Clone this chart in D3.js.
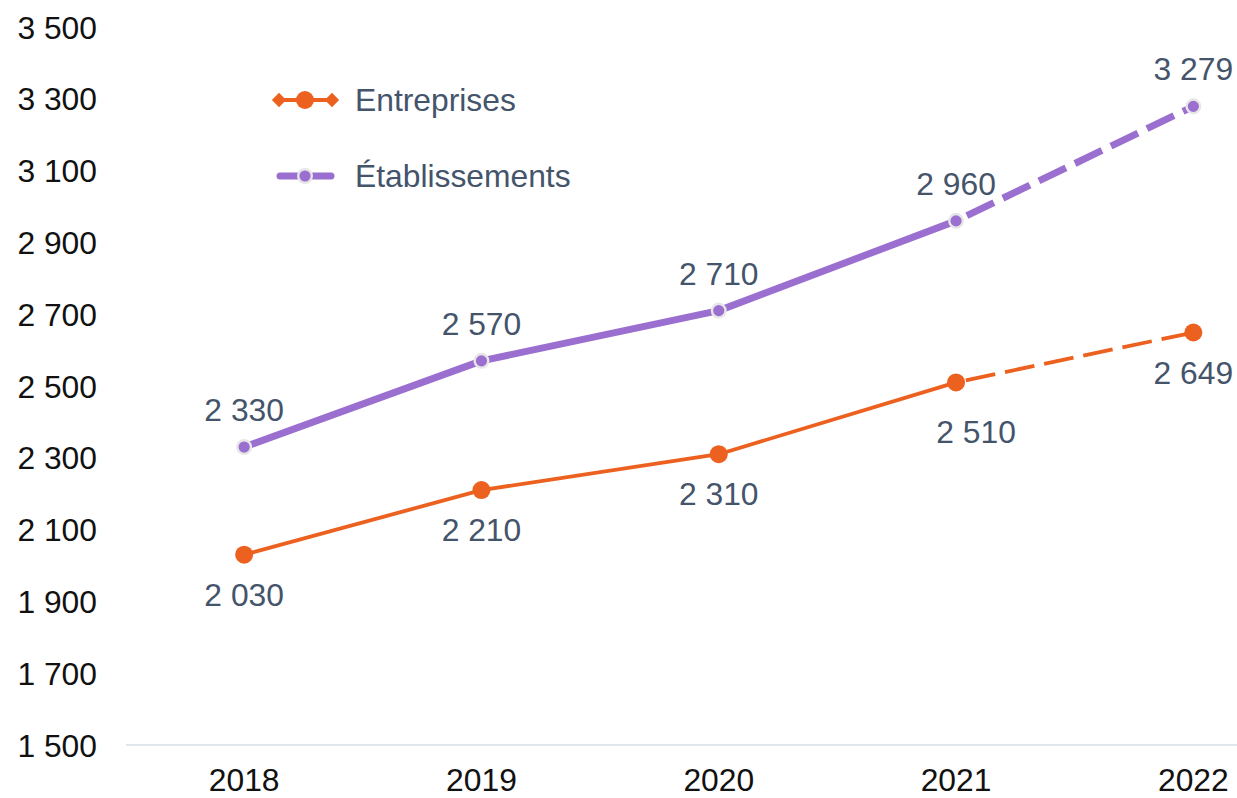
<!DOCTYPE html>
<html><head><meta charset="utf-8">
<script src="https://cdn.jsdelivr.net/npm/d3@7"></script>
<style>html,body{margin:0;padding:0;background:#fff;}svg{display:block;}</style>
</head><body>
<svg id="chart" width="1237" height="798"></svg>
<script>
const years = ["2018","2019","2020","2021","2022"];
const entreprises = [2030, 2210, 2310, 2510, 2649];
const etablissements = [2330, 2570, 2710, 2960, 3279];
const yTicks = [1500, 1700, 1900, 2100, 2300, 2500, 2700, 2900, 3100, 3300, 3500];
const seriesNames = ["Entreprises", "Établissements"];

const W = 1237, H = 798;
const orange = "#ec611f", purple = "#9b6fd0", labelColor = "#44546a";
const font = "'Liberation Sans', Arial, sans-serif";
const FS = 31.8;
const svg = d3.select("#chart");

const x = d3.scaleBand().domain(years).range([125.5, 1312]);
const xc = d => x(d) + x.bandwidth() / 2;
const y = d3.scaleLinear().domain([1500, 3500]).range([745, 27]);
const fmt = v => d3.format(",")(v).replace(/,/g, " ");

// baseline axis
svg.append("line").attr("x1", 126).attr("x2", W).attr("y1", y(1500)).attr("y2", y(1500))
  .attr("stroke", "#e1e5ec").attr("stroke-width", 2);

// y tick labels
const yAxis = d3.axisLeft(y).tickValues(yTicks).tickFormat(fmt).tickSize(0).tickPadding(0);
const gy = svg.append("g").attr("transform", "translate(97,0)").call(yAxis);
gy.select(".domain").remove();
gy.selectAll("text").attr("font-family", font).attr("font-size", FS).attr("fill", "#111").attr("dy", "0.35em");

// x tick labels
const xAxis = d3.axisBottom(x).tickSize(0).tickPadding(0);
const gx = svg.append("g").attr("transform", `translate(0,${y(1500)})`).call(xAxis);
gx.select(".domain").remove();
gx.selectAll("text").attr("font-family", font).attr("font-size", FS).attr("fill", "#111")
  .attr("y", 35).attr("dy", "0.35em");

function drawSeries(vals, color, width, dash, dashOffset) {
  const pts = years.map((yr, i) => [xc(yr), y(vals[i])]);
  const line = d3.line();
  svg.append("path").attr("d", line(pts.slice(0, 4))).attr("fill", "none")
    .attr("stroke", color).attr("stroke-width", width).attr("stroke-linejoin", "round");
  svg.append("path").attr("d", line(pts.slice(3))).attr("fill", "none")
    .attr("stroke", color).attr("stroke-width", width).attr("stroke-dasharray", dash)
    .attr("stroke-dashoffset", dashOffset);
  return pts;
}

const pE = drawSeries(entreprises, orange, 3.8, "30,10", -10);
const pS = drawSeries(etablissements, purple, 7, "30,10", -12);

svg.append("g").selectAll("circle").data(pE).join("circle")
  .attr("cx", d => d[0]).attr("cy", d => d[1]).attr("r", 9).attr("fill", orange);
svg.append("g").selectAll("circle").data(pS).join("circle")
  .attr("cx", d => d[0]).attr("cy", d => d[1]).attr("r", 6.8).attr("fill", purple)
  .attr("stroke", "#e6e6e6").attr("stroke-width", 2.4);

// data labels
svg.append("g").selectAll("text").data(etablissements).join("text")
  .attr("x", (d, i) => xc(years[i])).attr("y", (d, i) => y(d) - 37)
  .attr("dy", "0.35em").attr("text-anchor", "middle")
  .attr("font-family", font).attr("font-size", FS).attr("fill", labelColor).text(fmt);
svg.append("g").selectAll("text").data(entreprises).join("text")
  .attr("x", (d, i) => xc(years[i]) + (i === 3 ? 20 : 0))
  .attr("y", (d, i) => y(d) + (i === 3 ? 49 : 40))
  .attr("dy", "0.35em").attr("text-anchor", "middle")
  .attr("font-family", font).attr("font-size", FS).attr("fill", labelColor).text(fmt);

// legend
const lg = svg.append("g");
lg.append("line").attr("x1", 279).attr("x2", 332).attr("y1", 100).attr("y2", 100)
  .attr("stroke", orange).attr("stroke-width", 4);
[279, 332].forEach(cx => lg.append("path")
  .attr("d", d3.symbol().type(d3.symbolDiamond2).size(130)())
  .attr("transform", `translate(${cx},100)`).attr("fill", orange));
lg.append("circle").attr("cx", 305).attr("cy", 100).attr("r", 9).attr("fill", orange);
lg.append("text").attr("x", 355).attr("y", 100).attr("dy", "0.35em")
  .attr("font-family", font).attr("font-size", FS).attr("fill", labelColor).text(seriesNames[0]);

lg.append("line").attr("x1", 280).attr("x2", 331).attr("y1", 176).attr("y2", 176)
  .attr("stroke", purple).attr("stroke-width", 7).attr("stroke-linecap", "round");
lg.append("circle").attr("cx", 305).attr("cy", 176).attr("r", 6.8).attr("fill", purple)
  .attr("stroke", "#e6e6e6").attr("stroke-width", 2.4);
lg.append("text").attr("x", 355).attr("y", 176).attr("dy", "0.35em")
  .attr("font-family", font).attr("font-size", FS).attr("fill", labelColor).text(seriesNames[1]);
</script>
</body></html>
